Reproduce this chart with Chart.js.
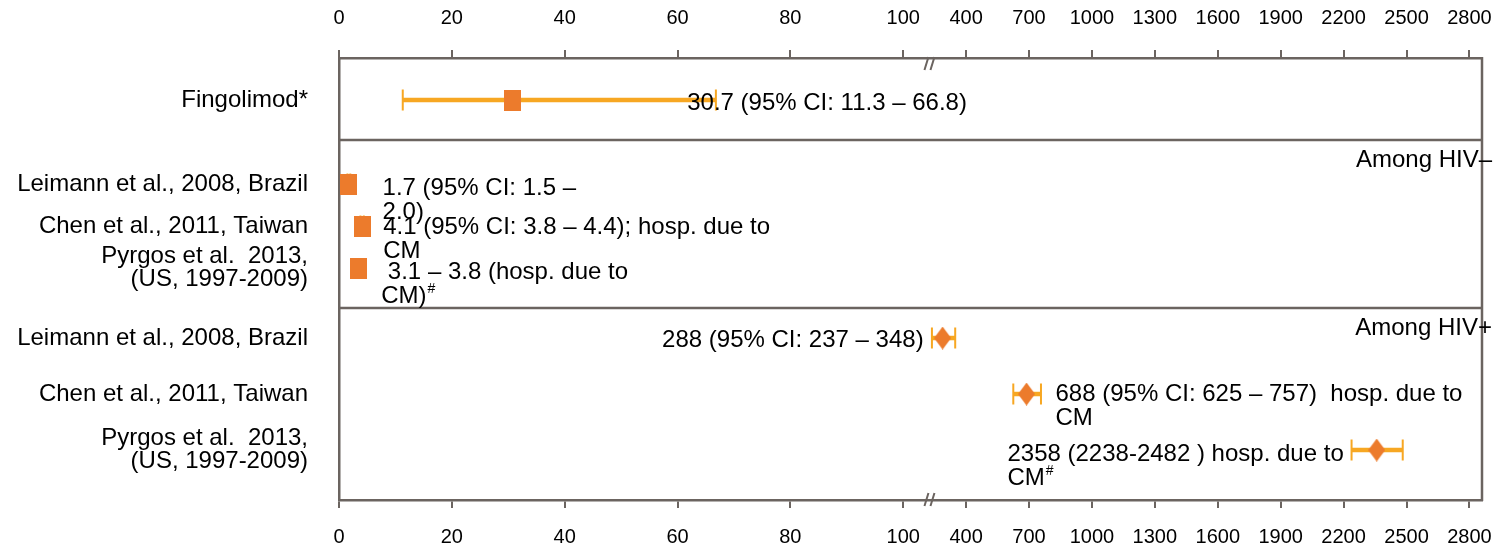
<!DOCTYPE html>
<html>
<head>
<meta charset="utf-8">
<script src="https://cdn.jsdelivr.net/npm/chart.js@4.4.1/dist/chart.umd.min.js"></script>
<style>
    html, body { margin: 0; padding: 0; background: #fff; }
    #wrap { width: 1499px; height: 555px; }
</style>
</head>
<body>
<div id="wrap"><canvas id="forest" width="1499" height="555"></canvas></div>
<script>
// Rows, top to bottom
const rowLabels = [
    'Fingolimod*',
    'Leimann et al., 2008, Brazil',
    'Chen et al., 2011, Taiwan',
    ['Pyrgos et al.  2013,', '(US, 1997-2009)'],
    'Leimann et al., 2008, Brazil',
    'Chen et al., 2011, Taiwan',
    ['Pyrgos et al.  2013,', '(US, 1997-2009)']
];
const rowPos = [3, 9, 12, 15, 20, 24, 28];
const estimates = [30.7, 1.7, 4.1, 3.4, 288, 688, 2358];
const ciLow = [11.3, 1.5, 3.8, null, 237, 625, 2238];
const ciHigh = [66.8, 2.0, 4.4, null, 348, 757, 2482];
const markerType = ['square', 'square', 'square', 'square', 'diamond', 'diamond', 'diamond'];
const valueLabels = [
    ['30.7 (95% CI: 11.3 – 66.8)'],
    ['1.7 (95% CI: 1.5 –', '2.0)'],
    ['4.1 (95% CI: 3.8 – 4.4); hosp. due to', 'CM'],
    [' 3.1 – 3.8 (hosp. due to', 'CM)#'],
    ['288 (95% CI: 237 – 348)'],
    ['688 (95% CI: 625 – 757)  hosp. due to', 'CM'],
    ['2358 (2238-2482 ) hosp. due to', 'CM#']
];
const groupLabels = ['Among HIV–', 'Among HIV+'];
const groupBreaks = [5.85, 17.85];
const xTickValues = [0, 20, 40, 60, 80, 100, 400, 700, 1000, 1300, 1600, 1900, 2200, 2500, 2800];
const xTickLabels = xTickValues.map(String);

// Broken axis: above 100 the scale is squeezed
const BREAK = 100;
const SQUEEZE = 0.03717;
const toAxis = v => v <= BREAK ? v : BREAK + (v - BREAK) * SQUEEZE;
const X_MAX = toAxis(2860);

const FONT = "'Liberation Sans', Arial, sans-serif";
const AXIS = '#6b6460';
const MARKER = '#EC7B2C';
const BAR = '#F7A722';

// where each value label sits relative to its marker
const labelLayout = [
    { side: 'right', dx: 175, dy: 3 },
    { side: 'right', dx: 34, dy: 4 },
    { side: 'right', dx: 21, dy: 1 },
    { side: 'right', dx: 23, dy: 4 },
    { side: 'left', dx: -19, dy: 2 },
    { side: 'right', dx: 29, dy: 0 },
    { side: 'left', dx: -33, dy: 4 }
];

function makeMarker(kind) {
    const c = document.createElement('canvas');
    const g = c.getContext('2d');
    if (kind === 'square') {
        c.width = 17; c.height = 21;
        g.fillStyle = MARKER;
        g.fillRect(0, 0, 17, 21);
    } else {
        c.width = 17; c.height = 23;
        g.fillStyle = MARKER;
        g.beginPath();
        g.moveTo(8.5, 0); g.lineTo(17, 11.5); g.lineTo(8.5, 23); g.lineTo(0, 11.5);
        g.closePath();
        g.fill();
    }
    return c;
}
const markers = { square: makeMarker('square'), diamond: makeMarker('diamond') };

function drawLine(ctx, text, x, y) {
    // trailing '#' is a superscript footnote mark
    if (text.endsWith('#')) {
        const main = text.slice(0, -1);
        ctx.font = '24px ' + FONT;
        ctx.fillText(main, x, y);
        const w = ctx.measureText(main).width;
        ctx.font = '14px ' + FONT;
        ctx.fillText('#', x + w + 1, y - 7);
        ctx.font = '24px ' + FONT;
    } else {
        ctx.fillText(text, x, y);
    }
}

const forestPlugin = {
    id: 'forest',
    beforeDatasetsDraw(chart) {
        const { ctx, scales: { x, y } } = chart;
        ctx.save();
        ctx.strokeStyle = BAR;
        estimates.forEach((v, i) => {
            if (ciLow[i] == null) return;
            const x1 = x.getPixelForValue(toAxis(ciLow[i]));
            const x2 = x.getPixelForValue(toAxis(ciHigh[i]));
            const yy = y.getPixelForValue(rowPos[i]);
            ctx.lineWidth = 4.5;
            ctx.beginPath(); ctx.moveTo(x1, yy); ctx.lineTo(x2, yy); ctx.stroke();
            ctx.lineWidth = 2;
            ctx.beginPath();
            ctx.moveTo(x1, yy - 10.5); ctx.lineTo(x1, yy + 10.5);
            ctx.moveTo(x2, yy - 10.5); ctx.lineTo(x2, yy + 10.5);
            ctx.stroke();
        });
        ctx.restore();
    },
    afterDatasetsDraw(chart) {
        const { ctx, chartArea: a, scales: { x, y } } = chart;
        ctx.save();
        // frame: right edge and group separators
        ctx.strokeStyle = AXIS;
        ctx.lineWidth = 2.5;
        ctx.beginPath();
        ctx.moveTo(a.right, a.top - 1); ctx.lineTo(a.right, a.bottom + 1);
        groupBreaks.forEach(b => {
            const yy = y.getPixelForValue(b);
            ctx.moveTo(a.left, yy); ctx.lineTo(a.right, yy);
        });
        ctx.stroke();

        // axis break marks
        const bx = x.getPixelForValue(toAxis(230));
        ctx.lineWidth = 2;
        ctx.beginPath();
        [a.top + 5, a.bottom - 1].forEach(yy => {
            ctx.moveTo(bx - 6, yy + 7); ctx.lineTo(bx - 2, yy - 6);
            ctx.moveTo(bx, yy + 7); ctx.lineTo(bx + 4, yy - 6);
        });
        ctx.stroke();

        // value labels
        ctx.fillStyle = '#000';
        ctx.font = '24px ' + FONT;
        ctx.textBaseline = 'middle';
        ctx.textAlign = 'left';
        valueLabels.forEach((lines, i) => {
            const mx = x.getPixelForValue(toAxis(estimates[i]));
            const my = y.getPixelForValue(rowPos[i]);
            const L = labelLayout[i];
            let left = mx + L.dx;
            if (L.side === 'left') {
                const w = Math.max(...lines.map(t => ctx.measureText(t).width));
                left = mx + L.dx - w;
            }
            lines.forEach((t, k) => drawLine(ctx, t, left, my + L.dy + k * 24));
        });

        // group labels
        ctx.textAlign = 'right';
        groupLabels.forEach((t, i) => {
            const yy = y.getPixelForValue(groupBreaks[i]) + 20;
            ctx.fillText(t, a.right + 10, yy);
        });
        ctx.restore();
    }
};

function xAxis(position, pad, height) {
    return {
        type: 'linear',
        position: position,
        min: 0,
        max: X_MAX,
        afterBuildTicks: s => { s.ticks = xTickValues.map(v => ({ value: toAxis(v) })); },
        afterFit: s => {
            s.height = height;
            s.paddingLeft = 0;
            s.paddingRight = 0;
        },
        ticks: {
            autoSkip: false,
            maxRotation: 0,
            padding: pad,
            color: '#000',
            font: { family: FONT, size: 20 },
            callback: (v, i) => xTickLabels[i]
        },
        grid: { drawOnChartArea: false, tickLength: 8, color: AXIS, lineWidth: 2 },
        border: { color: AXIS, width: 2.5 }
    };
}

new Chart(document.getElementById('forest'), {
    type: 'scatter',
    data: {
        datasets: [{
            label: 'Incidence',
            data: estimates.map((v, i) => ({ x: toAxis(v), y: rowPos[i] })),
            pointStyle: markerType.map(m => markers[m]),
            pointRadius: 10
        }]
    },
    options: {
        responsive: false,
        animation: false,
        layout: { padding: { left: 0, right: 17, top: 0, bottom: 0 } },
        plugins: { legend: { display: false }, tooltip: { enabled: false } },
        scales: {
            x: xAxis('bottom', 17, 55),
            x2: xAxis('top', 20, 58),
            y: {
                type: 'linear',
                reverse: true,
                min: 0,
                max: 31.57,
                afterBuildTicks: s => { s.ticks = rowPos.map(v => ({ value: v })); },
                afterFit: s => { s.width = 339; },
                ticks: {
                    autoSkip: false,
                    padding: 31,
                    color: '#000',
                    font: { family: FONT, size: 24, lineHeight: 0.96 },
                    callback: (v, i) => rowLabels[i]
                },
                grid: { drawOnChartArea: false, drawTicks: false },
                border: { color: AXIS, width: 2.5 }
            }
        }
    },
    plugins: [forestPlugin]
});
</script>
</body>
</html>
